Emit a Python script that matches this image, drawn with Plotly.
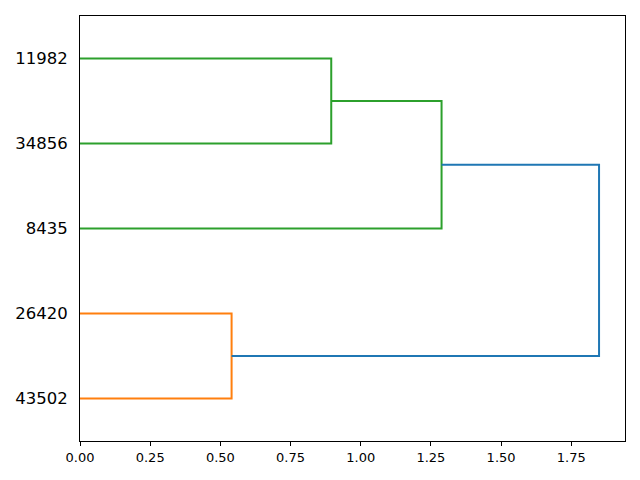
import plotly.graph_objects as go

# Leaves, bottom to top
leaf_labels = ["43502", "26420", "8435", "34856", "11982"]
# Merges: (left node, right node, distance); new node ids start at len(leaves)
merge_left = [0, 3, 2, 5]
merge_right = [1, 4, 6, 7]
merge_dist = [0.54, 0.895, 1.288, 1.849]
merge_color = ["#ff7f0e", "#2ca02c", "#2ca02c", "#1f77b4"]

n = len(leaf_labels)
leaf_pos = [5 + 10 * i for i in range(n)]
node_y = {i: leaf_pos[i] for i in range(n)}
node_x = {i: 0.0 for i in range(n)}

fig = go.Figure()
for k, (a, b, d, c) in enumerate(zip(merge_left, merge_right, merge_dist, merge_color)):
    xs = [node_x[a], d, d, node_x[b]]
    ys = [node_y[a], node_y[a], node_y[b], node_y[b]]
    fig.add_trace(go.Scatter(x=xs, y=ys, mode="lines",
                             line=dict(color=c, width=2),
                             hoverinfo="skip", showlegend=False))
    nid = n + k
    node_x[nid] = d
    node_y[nid] = (node_y[a] + node_y[b]) / 2

xmax = max(merge_dist) * 1.05
fig.update_layout(
    width=632, height=472,
    paper_bgcolor="white", plot_bgcolor="white",
    margin=dict(l=70, r=15, t=7, b=39),
    font=dict(family="DejaVu Sans", color="black"),
)
fig.update_xaxes(range=[0, xmax], tickvals=[0, 0.25, 0.5, 0.75, 1.0, 1.25, 1.5, 1.75],
                 ticktext=["0.00", "0.25", "0.50", "0.75", "1.00", "1.25", "1.50", "1.75"],
                 ticks="outside", ticklen=4, tickcolor="black", tickfont=dict(size=13),
                 showline=True, linecolor="black", linewidth=1, mirror=True,
                 showgrid=False, zeroline=False)
fig.update_yaxes(range=[0, 10 * n], tickvals=leaf_pos, ticktext=leaf_labels,
                 ticks="outside", ticklen=8, tickcolor="rgba(0,0,0,0)", tickfont=dict(size=16.5),
                 showline=True, linecolor="black", linewidth=1, mirror=True,
                 showgrid=False, zeroline=False)
fig.write_html("out.html")
